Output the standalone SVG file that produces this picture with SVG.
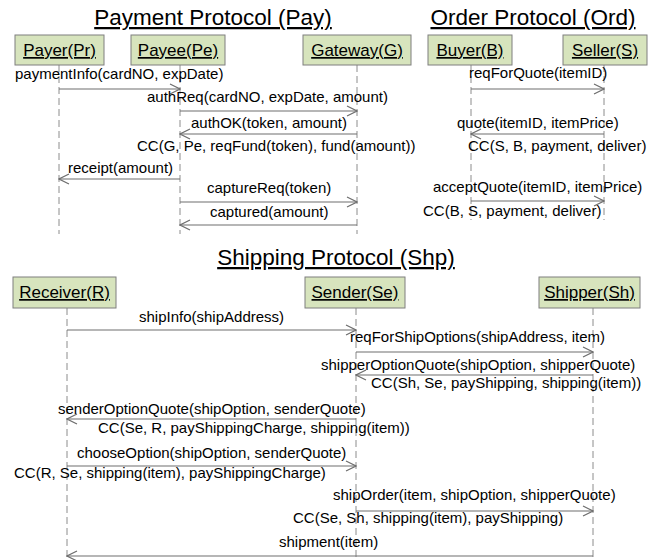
<svg xmlns="http://www.w3.org/2000/svg" width="666" height="560" viewBox="0 0 666 560">
<defs>
<style>
.title{font-family:"Liberation Sans",Arial,sans-serif;font-size:22.5px;fill:#000;text-decoration:underline;text-anchor:middle}
.actor rect{fill:#d7e4bd;stroke:#7f7f7f;stroke-width:1}
.actor text{font-family:"Liberation Sans",Arial,sans-serif;font-size:17px;fill:#000;text-decoration:underline;text-anchor:middle}
.life{stroke:#8c8c8c;stroke-width:1;stroke-dasharray:7,4;fill:none}
.msg{stroke:#6e6e6e;stroke-width:1.2;fill:none;marker-end:url(#arr)}
.lbl{font-family:"Liberation Sans",Arial,sans-serif;font-size:15px;fill:#000}
</style>
<marker id="arr" markerWidth="12" markerHeight="12" refX="11" refY="6" orient="auto" markerUnits="userSpaceOnUse">
<path d="M1,1 L11,6 L1,11" fill="none" stroke="#6e6e6e" stroke-width="1.2"/>
</marker>
</defs>
<rect width="666" height="560" fill="#fff"/>

<text class="title" x="213" y="25">Payment Protocol (Pay)</text>
<text class="title" x="533" y="25">Order Protocol (Ord)</text>
<text class="title" x="336" y="265">Shipping Protocol (Shp)</text>

<g id="lifelines">
<line class="life" x1="59" y1="65" x2="59" y2="234"/>
<line class="life" x1="180" y1="65" x2="180" y2="234"/>
<line class="life" x1="357" y1="65" x2="357" y2="234"/>
<line class="life" x1="471" y1="65" x2="471" y2="220"/>
<line class="life" x1="604" y1="65" x2="604" y2="220"/>
<line class="life" x1="67" y1="308" x2="67" y2="560"/>
<line class="life" x1="356" y1="308" x2="356" y2="560"/>
<line class="life" x1="593" y1="308" x2="593" y2="560"/>
</g>

<g id="payer" class="actor"><rect x="15" y="35" width="89" height="30"/><text x="59.5" y="56">Payer(Pr)</text></g>
<g id="payee" class="actor"><rect x="131" y="35" width="94" height="30"/><text x="178" y="56">Payee(Pe)</text></g>
<g id="gateway" class="actor"><rect x="303" y="35" width="108" height="30"/><text x="357" y="56">Gateway(G)</text></g>
<g id="buyer" class="actor"><rect x="428" y="35" width="84" height="30"/><text x="470" y="56">Buyer(B)</text></g>
<g id="seller" class="actor"><rect x="563" y="35" width="84" height="30"/><text x="605" y="56">Seller(S)</text></g>
<g id="receiver" class="actor"><rect x="13" y="277" width="103" height="31"/><text x="64.5" y="298">Receiver(R)</text></g>
<g id="sender" class="actor"><rect x="305" y="277" width="100" height="31"/><text x="355" y="298">Sender(Se)</text></g>
<g id="shipper" class="actor"><rect x="539" y="277" width="101" height="31"/><text x="589.5" y="298">Shipper(Sh)</text></g>

<g id="connectors">
<line class="msg" x1="59" y1="89" x2="180" y2="89"/>
<line class="msg" x1="180" y1="111" x2="357" y2="111"/>
<line class="msg" x1="357" y1="134" x2="180" y2="134"/>
<line class="msg" x1="180" y1="179" x2="59" y2="179"/>
<line class="msg" x1="180" y1="202" x2="357" y2="202"/>
<line class="msg" x1="357" y1="225" x2="180" y2="225"/>
<line class="msg" x1="471" y1="89" x2="604" y2="89"/>
<line class="msg" x1="604" y1="134" x2="471" y2="134"/>
<line class="msg" x1="471" y1="201" x2="604" y2="201"/>
<line class="msg" x1="67" y1="330" x2="356" y2="330"/>
<line class="msg" x1="356" y1="352" x2="593" y2="352"/>
<line class="msg" x1="593" y1="375" x2="356" y2="375"/>
<line class="msg" x1="356" y1="419" x2="67" y2="419"/>
<line class="msg" x1="67" y1="466" x2="356" y2="466"/>
<line class="msg" x1="356" y1="511" x2="593" y2="511"/>
<line class="msg" x1="593" y1="556" x2="67" y2="556"/>
</g>

<g id="labels">
<text class="lbl" x="15" y="79">paymentInfo(cardNO, expDate)</text>
<text class="lbl" x="147" y="102">authReq(cardNO, expDate, amount)</text>
<text class="lbl" x="191" y="128">authOK(token, amount)</text>
<text class="lbl" x="137" y="151">CC(G, Pe, reqFund(token), fund(amount))</text>
<text class="lbl" x="68" y="173">receipt(amount)</text>
<text class="lbl" x="207" y="193">captureReq(token)</text>
<text class="lbl" x="210" y="217">captured(amount)</text>
<text class="lbl" x="469" y="78">reqForQuote(itemID)</text>
<text class="lbl" x="457" y="128">quote(itemID, itemPrice)</text>
<text class="lbl" x="468" y="151">CC(S, B, payment, deliver)</text>
<text class="lbl" x="433" y="192">acceptQuote(itemID, itemPrice)</text>
<text class="lbl" x="423" y="216">CC(B, S, payment, deliver)</text>
<text class="lbl" x="139" y="322">shipInfo(shipAddress)</text>
<text class="lbl" x="350" y="342">reqForShipOptions(shipAddress, item)</text>
<text class="lbl" x="321" y="370">shipperOptionQuote(shipOption, shipperQuote)</text>
<text class="lbl" x="371" y="388">CC(Sh, Se, payShipping, shipping(item))</text>
<text class="lbl" x="58" y="414">senderOptionQuote(shipOption, senderQuote)</text>
<text class="lbl" x="98" y="433">CC(Se, R, payShippingCharge, shipping(item))</text>
<text class="lbl" x="77" y="458">chooseOption(shipOption, senderQuote)</text>
<text class="lbl" x="14" y="478">CC(R, Se, shipping(item), payShippingCharge)</text>
<text class="lbl" x="333" y="500">shipOrder(item, shipOption, shipperQuote)</text>
<text class="lbl" x="293" y="523">CC(Se, Sh, shipping(item), payShipping)</text>
<text class="lbl" x="279" y="547">shipment(item)</text>
</g>
</svg>
